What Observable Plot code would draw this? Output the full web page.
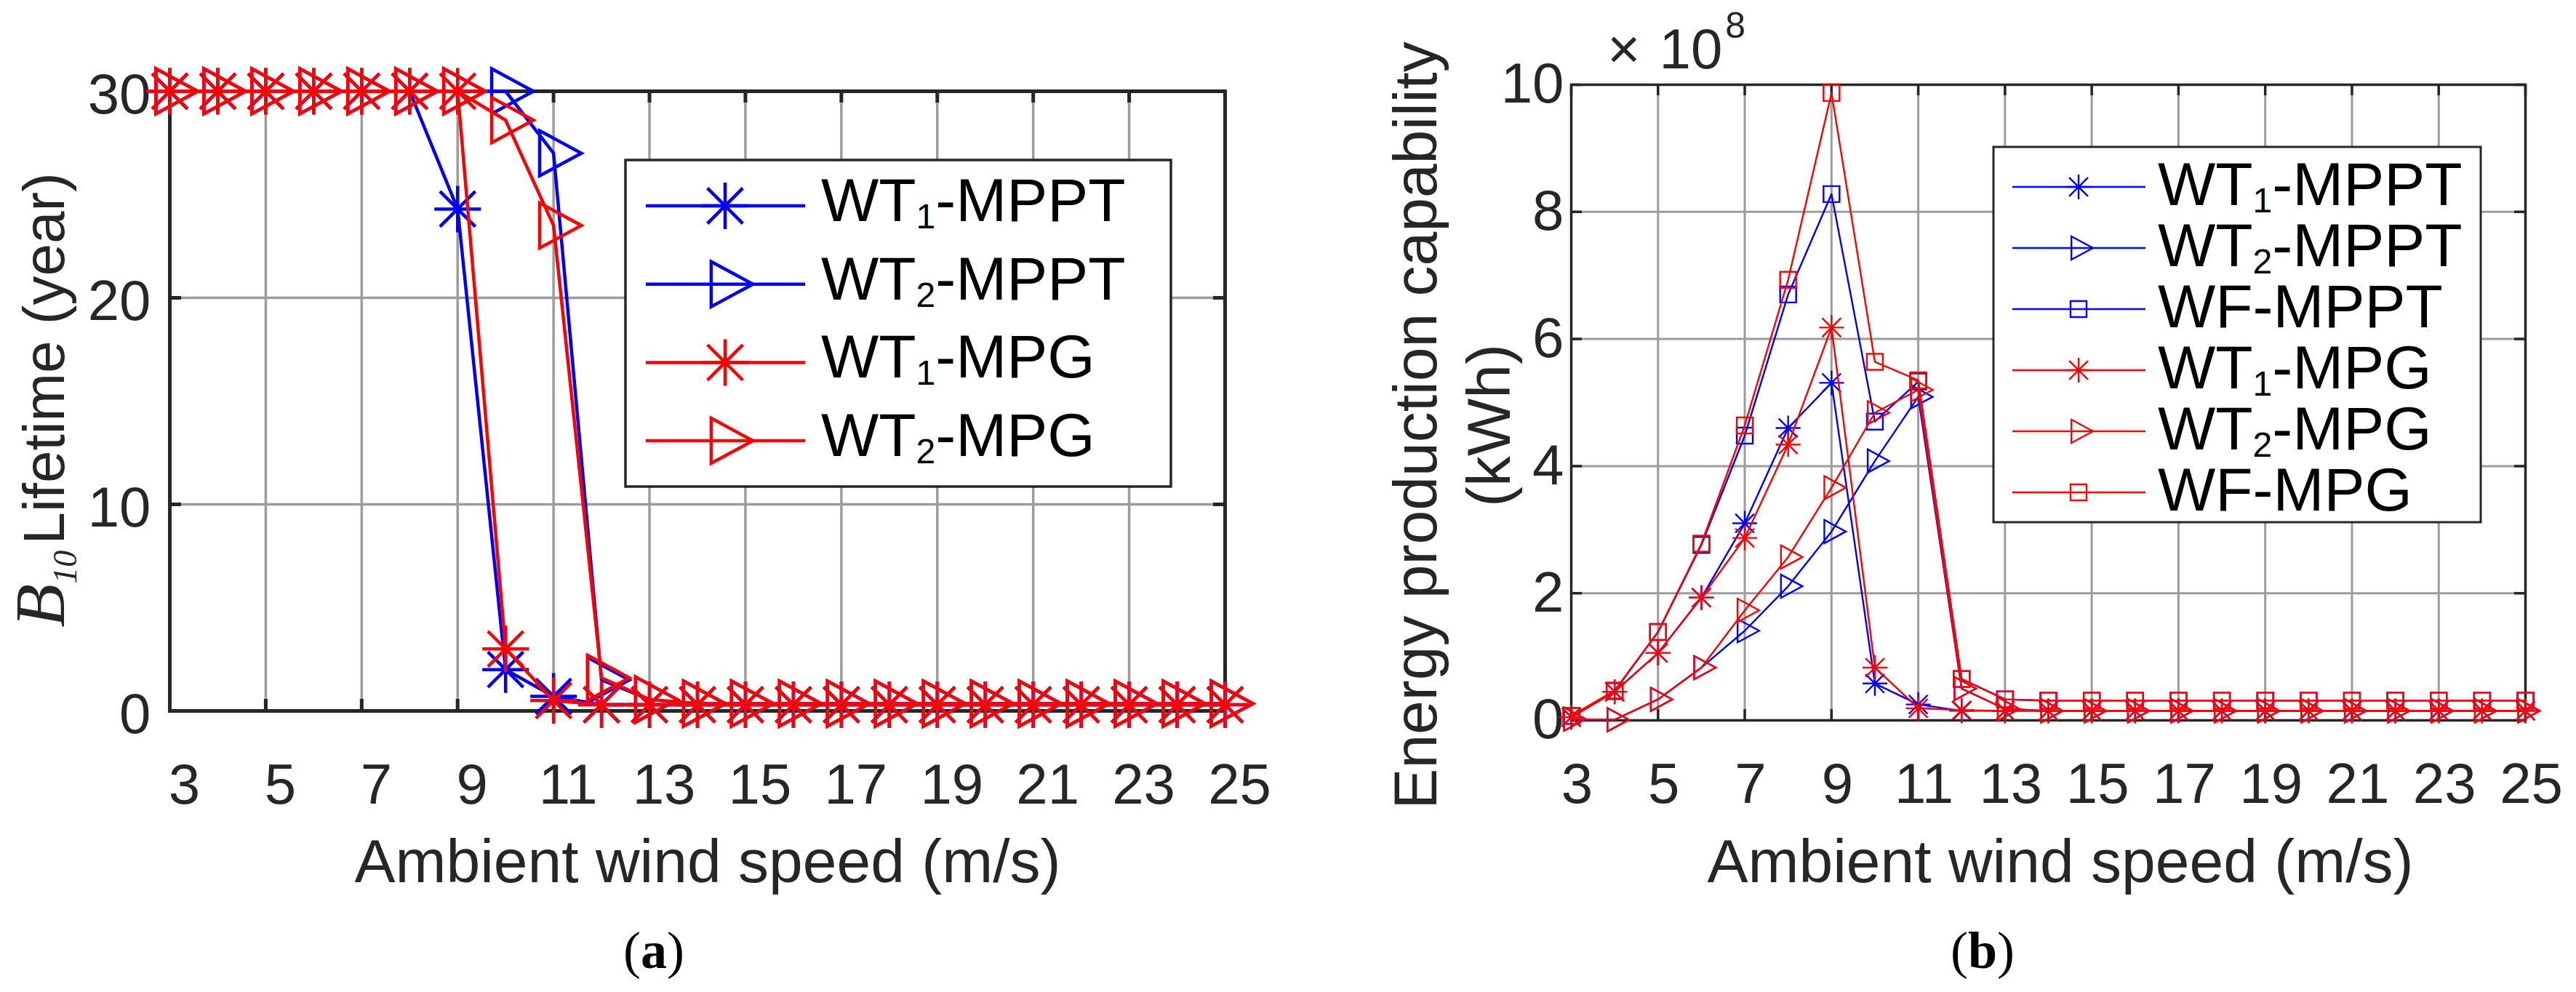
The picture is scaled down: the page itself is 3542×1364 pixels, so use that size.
<!DOCTYPE html>
<html>
<head>
<meta charset="utf-8">
<script src="https://cdn.jsdelivr.net/npm/d3@7"></script>
<script src="https://cdn.jsdelivr.net/npm/@observablehq/plot@0.6"></script>
<style>
  body { margin: 0; background: #fff; }
  #page { position: relative; width: 3542px; height: 1364px; background: #fff; overflow: hidden; }
  #graph1, #graph2 { position: absolute; top: 0; }
  #graph1 { left: 0; }
  #graph2 { left: 1780px; }
</style>
</head>
<body>
<div id="page"><div id="graph1"></div><div id="graph2"></div></div>
<script>
// wind speeds (m/s) and tick labels
const speeds = [3, 4, 5, 6, 7, 8, 9, 10, 11, 12, 13, 14, 15, 16, 17, 18, 19, 20, 21, 22, 23, 24, 25];
const speedTicks = [3, 5, 7, 9, 11, 13, 15, 17, 19, 21, 23, 25];
const lifeTicks = [0, 10, 20, 30];
const energyTicks = [0, 2, 4, 6, 8, 10];

// (a) B10 lifetime (year)
const lifeWT1MPPT = [30, 30, 30, 30, 30, 30, 24.3, 2.0, 0.7, 0.3, 0.3, 0.3, 0.3, 0.3, 0.3, 0.3, 0.3, 0.3, 0.3, 0.3, 0.3, 0.3, 0.3];
const lifeWT2MPPT = [30, 30, 30, 30, 30, 30, 30, 30, 27.0, 1.5, 0.55, 0.35, 0.35, 0.35, 0.35, 0.35, 0.35, 0.35, 0.35, 0.35, 0.35, 0.35, 0.35];
const lifeWT1MPG = [30, 30, 30, 30, 30, 30, 30, 3.0, 0.5, 0.3, 0.3, 0.3, 0.3, 0.3, 0.3, 0.3, 0.3, 0.3, 0.3, 0.3, 0.3, 0.3, 0.3];
const lifeWT2MPG = [30, 30, 30, 30, 30, 30, 30, 28.6, 23.5, 1.6, 0.55, 0.35, 0.35, 0.35, 0.35, 0.35, 0.35, 0.35, 0.35, 0.35, 0.35, 0.35, 0.35];

// (b) energy production capability (x 10^8 kWh)
const energyWT1MPPT = [0.05, 0.45, 1.06, 1.93, 3.10, 4.60, 5.31, 0.58, 0.25, 0.15, 0.15, 0.15, 0.15, 0.15, 0.15, 0.15, 0.15, 0.15, 0.15, 0.15, 0.15, 0.15, 0.15];
const energyWT2MPPT = [0.02, 0.01, 0.33, 0.83, 1.41, 2.11, 2.97, 4.08, 5.09, 0.50, 0.18, 0.15, 0.15, 0.15, 0.15, 0.15, 0.15, 0.15, 0.15, 0.15, 0.15, 0.15, 0.15];
const energyWFMPPT = [0.07, 0.46, 1.39, 2.76, 4.48, 6.70, 8.28, 4.70, 5.33, 0.65, 0.33, 0.31, 0.31, 0.31, 0.31, 0.31, 0.31, 0.31, 0.31, 0.31, 0.31, 0.31, 0.31];
const energyWT1MPG = [0.05, 0.45, 1.06, 1.93, 2.87, 4.34, 6.18, 0.83, 0.19, 0.16, 0.15, 0.15, 0.15, 0.15, 0.15, 0.15, 0.15, 0.15, 0.15, 0.15, 0.15, 0.15, 0.15];
const energyWT2MPG = [0.02, 0.01, 0.33, 0.83, 1.73, 2.57, 3.66, 4.84, 5.20, 0.50, 0.18, 0.15, 0.15, 0.15, 0.15, 0.15, 0.15, 0.15, 0.15, 0.15, 0.15, 0.15, 0.15];
const energyWFMPG = [0.07, 0.47, 1.39, 2.78, 4.64, 6.93, 9.87, 5.64, 5.35, 0.65, 0.33, 0.31, 0.31, 0.31, 0.31, 0.31, 0.31, 0.31, 0.31, 0.31, 0.31, 0.31, 0.31];

// MATLAB-like markers: '*', '>' and 's'
const asterisk = {
  draw(ctx, size) {
    const r = Math.sqrt(size / Math.PI), d = r * 0.76;
    ctx.moveTo(-r, 0); ctx.lineTo(r, 0);
    ctx.moveTo(0, -r); ctx.lineTo(0, r);
    ctx.moveTo(-d, -d); ctx.lineTo(d, d);
    ctx.moveTo(-d, d); ctx.lineTo(d, -d);
  }
};
const triRight = {
  draw(ctx, size) {
    const r = Math.sqrt(size / Math.PI), w = 1.85 * r;
    ctx.moveTo(-w / 3, -r); ctx.lineTo(2 * w / 3, 0); ctx.lineTo(-w / 3, r); ctx.closePath();
  }
};
const square = {
  draw(ctx, size) {
    const r = Math.sqrt(size / Math.PI);
    ctx.rect(-r, -r, 2 * r, 2 * r);
  }
};

const blue = "#0000ff", red = "#ff0000", ink = "#262626";
const sans = "'Liberation Sans', Arial, sans-serif";
const serif = "'Liberation Serif', 'Times New Roman', serif";

const seriesA = [
  {pre: "WT", sub: "1", post: "-MPPT", values: lifeWT1MPPT, color: blue, symbol: asterisk, r: 32},
  {pre: "WT", sub: "2", post: "-MPPT", values: lifeWT2MPPT, color: blue, symbol: triRight, r: 31},
  {pre: "WT", sub: "1", post: "-MPG", values: lifeWT1MPG, color: red, symbol: asterisk, r: 32},
  {pre: "WT", sub: "2", post: "-MPG", values: lifeWT2MPG, color: red, symbol: triRight, r: 31}
];
const seriesB = [
  {pre: "WT", sub: "1", post: "-MPPT", values: energyWT1MPPT, color: blue, symbol: asterisk, r: 17},
  {pre: "WT", sub: "2", post: "-MPPT", values: energyWT2MPPT, color: blue, symbol: triRight, r: 16},
  {pre: "WF", sub: "", post: "-MPPT", values: energyWFMPPT, color: blue, symbol: square, r: 11},
  {pre: "WT", sub: "1", post: "-MPG", values: energyWT1MPG, color: red, symbol: asterisk, r: 17},
  {pre: "WT", sub: "2", post: "-MPG", values: energyWT2MPG, color: red, symbol: triRight, r: 16},
  {pre: "WF", sub: "", post: "-MPG", values: energyWFMPG, color: red, symbol: square, r: 11}
];

const rowsOf = (s) => speeds.map((x, i) => ({x, y: s.values[i]}));

function seriesMarks(series, lw) {
  return series.flatMap((s) => [
    Plot.line(rowsOf(s), {x: "x", y: "y", stroke: s.color, strokeWidth: lw}),
    Plot.dot(rowsOf(s), {x: "x", y: "y", symbol: s.symbol, r: s.r, stroke: s.color, fill: "none", strokeWidth: lw})
  ]);
}

function boxMarks(xTicks, yTicks, innerW, innerH, lw, gw, tick) {
  return [
    Plot.gridX(xTicks, {stroke: "#9c9c9c", strokeOpacity: 1, strokeWidth: gw}),
    Plot.gridY(yTicks, {stroke: "#9c9c9c", strokeOpacity: 1, strokeWidth: gw}),
    Plot.tickX(xTicks, {x: (d) => d, insetTop: innerH - tick, stroke: ink, strokeWidth: lw}),
    Plot.tickX(xTicks, {x: (d) => d, insetBottom: innerH - tick, stroke: ink, strokeWidth: lw}),
    Plot.tickY(yTicks, {y: (d) => d, insetRight: innerW - tick, stroke: ink, strokeWidth: lw}),
    Plot.tickY(yTicks, {y: (d) => d, insetLeft: innerW - tick, stroke: ink, strokeWidth: lw}),
    Plot.frame({stroke: ink, strokeWidth: lw})
  ];
}

const plotStyle = {fontFamily: sans, color: ink, background: "white", overflow: "visible", maxWidth: "none"};
const plain = (d) => String(d);

function drawLegend(svg, series, o) {
  const g = d3.select(svg).append("g");
  g.append("rect").attr("x", o.x).attr("y", o.y).attr("width", o.w).attr("height", o.h)
    .attr("fill", "white").attr("stroke", ink).attr("stroke-width", o.frame);
  series.forEach((s, i) => {
    const y = o.y0 + i * o.step;
    g.append("line").attr("x1", o.lx1).attr("x2", o.lx2).attr("y1", y).attr("y2", y)
      .attr("stroke", s.color).attr("stroke-width", o.lw);
    g.append("path").attr("transform", `translate(${o.mx},${y})`)
      .attr("d", d3.symbol(s.symbol, Math.PI * s.r * s.r)())
      .attr("fill", "none").attr("stroke", s.color).attr("stroke-width", o.lw);
    const t = g.append("text").attr("x", o.tx).attr("y", y + o.base)
      .attr("text-anchor", "start").attr("font-size", 84).attr("fill", "#000")
      .attr("font-family", sans);
    t.append("tspan").text(s.pre);
    if (s.sub) {
      t.append("tspan").attr("font-size", 48).attr("dy", 10).text(s.sub);
      t.append("tspan").attr("dy", -10).text(s.post);
    } else {
      t.append("tspan").text(s.post);
    }
  });
}

function caption(svg, x, letter) {
  const t = d3.select(svg).append("text").attr("x", x).attr("y", 1331)
    .attr("text-anchor", "middle").attr("font-size", 72).attr("fill", "#000")
    .attr("font-family", serif);
  t.append("tspan").text("(");
  t.append("tspan").attr("font-weight", "bold").text(letter);
  t.append("tspan").text(")");
}

// (a)
const plotA = Plot.plot({
  width: 1780, height: 1364,
  marginLeft: 233, marginRight: 96, marginTop: 125, marginBottom: 387,
  x: {domain: [3, 25]},
  y: {domain: [0, 30]},
  style: plotStyle,
  marks: [
    ...boxMarks(speedTicks, lifeTicks, 1451, 852, 5, 3.5, 16),
    Plot.axisX(speedTicks, {tickSize: 0, tickPadding: 72, fontSize: 78, dx: 20, tickFormat: plain, label: null}),
    Plot.axisY(lifeTicks, {tickSize: 0, tickPadding: 26, fontSize: 78, dy: 6, tickFormat: plain, label: null}),
    ...seriesMarks(seriesA, 4.5)
  ]
});
document.querySelector("#graph1").append(plotA);

const sa = d3.select(plotA);
sa.append("text").attr("x", 973).attr("y", 1213).attr("text-anchor", "middle")
  .attr("font-size", 84).attr("fill", ink).text("Ambient wind speed (m/s)");
const ya = sa.append("text").attr("transform", "translate(88,550) rotate(-90)")
  .attr("text-anchor", "middle").attr("font-size", 80).attr("fill", ink);
ya.append("tspan").attr("font-family", serif).attr("font-style", "italic")
  .attr("font-size", 98).text("B");
ya.append("tspan").attr("font-family", serif).attr("font-style", "italic")
  .attr("font-size", 46).attr("dy", 17).text("10");
ya.append("tspan").attr("dy", -17).attr("dx", -14).text(" Lifetime (year)");
drawLegend(plotA, seriesA, {x: 860, y: 220, w: 750, h: 449, frame: 3.5, y0: 283, step: 107.7,
  lx1: 888, lx2: 1107, mx: 997, tx: 1129, base: 21, lw: 4.5});
caption(plotA, 899, "a");

// (b)
const plotB = Plot.plot({
  width: 1762, height: 1364,
  marginLeft: 380, marginRight: 70, marginTop: 116, marginBottom: 374,
  x: {domain: [3, 25]},
  y: {domain: [0, 10]},
  style: plotStyle,
  marks: [
    ...boxMarks(speedTicks, energyTicks, 1312, 874, 3.5, 3, 15),
    Plot.axisX(speedTicks, {tickSize: 0, tickPadding: 58, fontSize: 78, dx: 8, tickFormat: plain, label: null}),
    Plot.axisY(energyTicks, {tickSize: 0, tickPadding: 10, fontSize: 78, tickFormat: plain, label: null}),
    ...seriesMarks(seriesB, 2.4)
  ]
});
document.querySelector("#graph2").append(plotB);

const sb = d3.select(plotB);
sb.append("text").attr("x", 1053).attr("y", 1213).attr("text-anchor", "middle")
  .attr("font-size", 84).attr("fill", ink).text("Ambient wind speed (m/s)");
sb.append("text").attr("transform", "translate(195,585) rotate(-90)").attr("text-anchor", "middle")
  .attr("font-size", 84).attr("fill", ink).text("Energy production capability");
sb.append("text").attr("transform", "translate(296,585) rotate(-90)").attr("text-anchor", "middle")
  .attr("font-size", 84).attr("fill", ink).text("(kWh)");
const expo = sb.append("text").attr("x", 430).attr("y", 94).attr("text-anchor", "start")
  .attr("font-size", 78).attr("fill", ink);
expo.append("tspan").text("\u00d7");
expo.append("tspan").attr("dx", 26).text("10");
expo.append("tspan").attr("dx", 4).attr("dy", -42).attr("font-size", 50).text("8");
drawLegend(plotB, seriesB, {x: 961, y: 202, w: 670, h: 516, frame: 3, y0: 257, step: 84,
  lx1: 987, lx2: 1170, mx: 1078, tx: 1187, base: 25, lw: 2.4});
caption(plotB, 946, "b");
</script>
</body>
</html>
